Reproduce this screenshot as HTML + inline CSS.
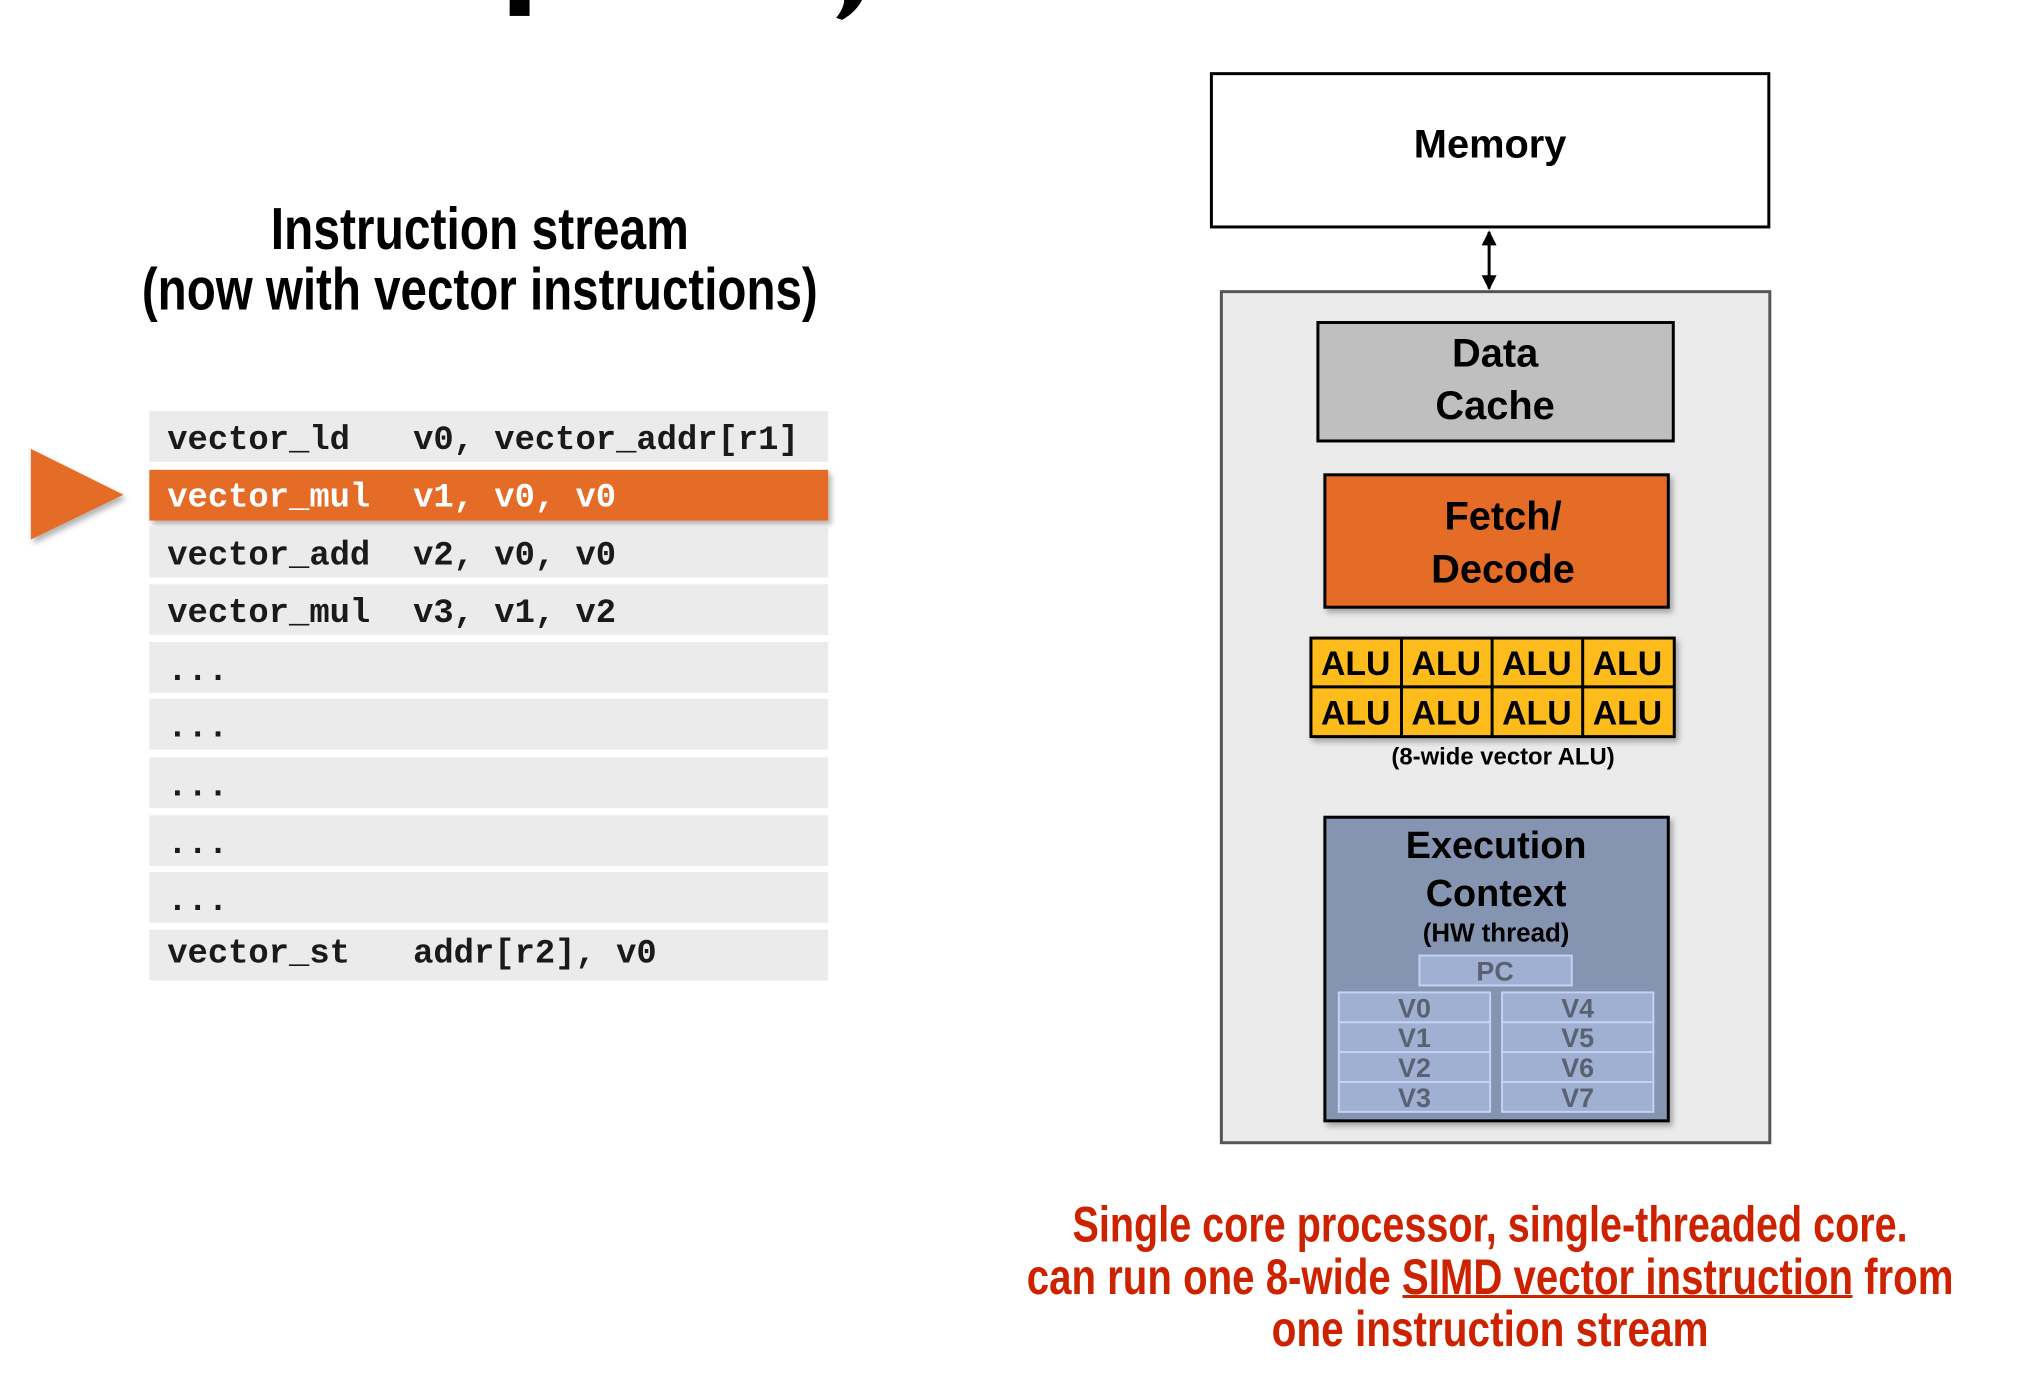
<!DOCTYPE html>
<html><head><meta charset="utf-8"><style>
html,body{margin:0;padding:0;background:#fff;}
svg{display:block;}
.mono{font-family:"Liberation Mono",monospace;font-size:34px;fill:#1a1a1a;font-weight:bold;}
.b{font-family:"Liberation Sans",sans-serif;font-weight:bold;}
.n{font-family:"Liberation Sans Narrow","Liberation Sans",sans-serif;font-weight:bold;}
</style></head><body>
<svg width="2022" height="1382" viewBox="0 0 2022 1382" xmlns="http://www.w3.org/2000/svg">
<defs>
<filter id="sh" x="-5%" y="-5%" width="115%" height="130%"><feDropShadow dx="3" dy="4" stdDeviation="3" flood-color="#000" flood-opacity="0.3"/></filter>
<marker id="ah" viewBox="0 0 10 10" refX="9" refY="5" markerWidth="5" markerHeight="6" orient="auto-start-reverse"><path d="M0,0 L10,5 L0,10 z" fill="#000"/></marker>
</defs>
<g transform="scale(0.9954)">
<rect x="512" y="0" width="20" height="16" fill="#000"/>
<path d="M848,0 L866,0 Q860,12 846,20 L840,18 Q848,8 848,0 z" fill="#000"/>

<g>
<text class="n" x="482" y="250" font-size="60" text-anchor="middle" textLength="420" lengthAdjust="spacingAndGlyphs">Instruction stream</text>
<text class="n" x="482" y="311" font-size="60" text-anchor="middle" textLength="679" lengthAdjust="spacingAndGlyphs">(now with vector instructions)</text>
</g>

<g>
<rect x="150" y="413" width="682" height="51" fill="#EBEBEB"/>
<text class="mono" x="168" y="451">vector_ld</text><text class="mono" x="415" y="451">v0, vector_addr[r1]</text>
<rect x="150" y="472" width="682" height="51" fill="#E46C25" filter="url(#sh)"/>
<text class="mono" x="168" y="509" style="fill:#fff">vector_mul</text><text class="mono" x="415" y="509" style="fill:#fff">v1, v0, v0</text>
<rect x="150" y="529" width="682" height="51" fill="#EBEBEB"/>
<text class="mono" x="168" y="567">vector_add</text><text class="mono" x="415" y="567">v2, v0, v0</text>
<rect x="150" y="587" width="682" height="51" fill="#EBEBEB"/>
<text class="mono" x="168" y="625">vector_mul</text><text class="mono" x="415" y="625">v3, v1, v2</text>
<rect x="150" y="645" width="682" height="51" fill="#EBEBEB"/>
<text class="mono" x="168" y="683">...</text>
<rect x="150" y="702" width="682" height="51" fill="#EBEBEB"/>
<text class="mono" x="168" y="740">...</text>
<rect x="150" y="761" width="682" height="51" fill="#EBEBEB"/>
<text class="mono" x="168" y="799">...</text>
<rect x="150" y="819" width="682" height="51" fill="#EBEBEB"/>
<text class="mono" x="168" y="857">...</text>
<rect x="150" y="876" width="682" height="51" fill="#EBEBEB"/>
<text class="mono" x="168" y="914">...</text>
<rect x="150" y="934" width="682" height="51" fill="#EBEBEB"/>
<text class="mono" x="168" y="967">vector_st</text><text class="mono" x="415" y="967">addr[r2], v0</text>
</g>
<polygon points="31,451 124,497 31,542" fill="#E46C25" filter="url(#sh)"/>

<rect x="1217" y="74" width="560" height="154" fill="#fff" stroke="#000" stroke-width="3"/>
<text class="b" x="1497" y="158" font-size="40" text-anchor="middle">Memory</text>
<line x1="1496" y1="233" x2="1496" y2="290" stroke="#000" stroke-width="3" marker-start="url(#ah)" marker-end="url(#ah)"/>

<rect x="1227" y="293" width="551" height="855" fill="#EBEBEB" stroke="#555" stroke-width="3"/>

<rect x="1324" y="324" width="357" height="119" fill="#BFBFBF" stroke="#000" stroke-width="3"/>
<text class="b" x="1502" y="368" font-size="40" text-anchor="middle">Data</text>
<text class="b" x="1502" y="421" font-size="40" text-anchor="middle">Cache</text>

<rect x="1331" y="477" width="345" height="133" fill="#E46C25" stroke="#000" stroke-width="3" filter="url(#sh)"/>
<text class="b" x="1510" y="532" font-size="40" text-anchor="middle">Fetch/</text>
<text class="b" x="1510" y="585" font-size="40" text-anchor="middle">Decode</text>

<g filter="url(#sh)">
<rect x="1317" y="641" width="365" height="99" fill="#FDBB1B" stroke="#000" stroke-width="3"/>
<line x1="1408" y1="641" x2="1408" y2="740" stroke="#000" stroke-width="3"/>
<line x1="1499" y1="641" x2="1499" y2="740" stroke="#000" stroke-width="3"/>
<line x1="1590" y1="641" x2="1590" y2="740" stroke="#000" stroke-width="3"/>
<line x1="1317" y1="690" x2="1682" y2="690" stroke="#000" stroke-width="3"/>
</g>
<g class="b" font-size="34" text-anchor="middle">
<text x="1362" y="678">ALU</text><text x="1453" y="678">ALU</text><text x="1544" y="678">ALU</text><text x="1635" y="678">ALU</text>
<text x="1362" y="728">ALU</text><text x="1453" y="728">ALU</text><text x="1544" y="728">ALU</text><text x="1635" y="728">ALU</text>
</g>
<text class="b" x="1510" y="768" font-size="24" text-anchor="middle">(8-wide vector ALU)</text>

<rect x="1331" y="821" width="345" height="305" fill="#8594B0" stroke="#000" stroke-width="3" filter="url(#sh)"/>
<text class="b" x="1503" y="862" font-size="38" text-anchor="middle">Execution</text>
<text class="b" x="1503" y="910" font-size="38" text-anchor="middle">Context</text>
<text class="b" x="1503" y="946" font-size="26" text-anchor="middle">(HW thread)</text>
<g stroke="#C3D2F5" stroke-width="2" fill="#A0B0D2">
<rect x="1426" y="960" width="153" height="30"/>
<rect x="1345" y="997" width="152" height="30"/><rect x="1345" y="1027" width="152" height="30"/><rect x="1345" y="1057" width="152" height="30"/><rect x="1345" y="1087" width="152" height="30"/>
<rect x="1509" y="997" width="152" height="30"/><rect x="1509" y="1027" width="152" height="30"/><rect x="1509" y="1057" width="152" height="30"/><rect x="1509" y="1087" width="152" height="30"/>
</g>
<g class="b" font-size="27" fill="#5A6272" text-anchor="middle">
<text x="1502" y="985">PC</text>
<text x="1421" y="1022">V0</text><text x="1421" y="1052">V1</text><text x="1421" y="1082">V2</text><text x="1421" y="1112">V3</text>
<text x="1585" y="1022">V4</text><text x="1585" y="1052">V5</text><text x="1585" y="1082">V6</text><text x="1585" y="1112">V7</text>
</g>

<g fill="#CC2200">
<text class="n" x="1497" y="1247" font-size="50" text-anchor="middle" textLength="839" lengthAdjust="spacingAndGlyphs">Single core processor, single-threaded core.</text>
<text class="n" x="1497" y="1300" font-size="50" text-anchor="middle" textLength="931" lengthAdjust="spacingAndGlyphs">can run one 8-wide SIMD vector instruction from</text>
<text class="n" x="1497" y="1352" font-size="50" text-anchor="middle" textLength="439" lengthAdjust="spacingAndGlyphs">one instruction stream</text>
<rect x="1409" y="1301" width="452" height="3"/>
</g>
</g>
</svg>
</body></html>
